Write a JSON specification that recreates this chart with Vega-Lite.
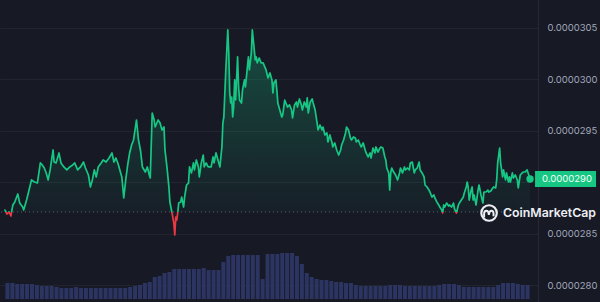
{
  "$schema": "https://vega.github.io/schema/vega-lite/v6.json",
  "width": 538,
  "height": 302,
  "autosize": {"type": "none"},
  "padding": {"left": 0, "top": 0, "right": 62, "bottom": 0},
  "background": "#171924",
  "config": {"view": {"stroke": null}},
  "datasets": {
    "price": [
      {"m":0,"p":0.000028728},{"m":6,"p":0.000028689},{"m":12,"p":0.000028709},{"m":18,"p":0.000028670},{"m":24,"p":0.000028777},{"m":30,"p":0.000028806},{"m":39,"p":0.000028884},{"m":45,"p":0.000028796},{"m":54,"p":0.000028757},{"m":57,"p":0.000028728},{"m":66,"p":0.000028825},{"m":75,"p":0.000028942},{"m":81,"p":0.000029020},{"m":90,"p":0.000029000},{"m":99,"p":0.000028990},{"m":108,"p":0.000029185},{"m":114,"p":0.000029165},{"m":120,"p":0.000029136},{"m":126,"p":0.000029088},{"m":132,"p":0.000029020},{"m":138,"p":0.000029117},{"m":147,"p":0.000029311},{"m":150,"p":0.000029194},{"m":156,"p":0.000029185},{"m":165,"p":0.000029282},{"m":171,"p":0.000029185},{"m":180,"p":0.000029146},{"m":189,"p":0.000029117},{"m":198,"p":0.000029146},{"m":207,"p":0.000029165},{"m":213,"p":0.000029185},{"m":222,"p":0.000029117},{"m":231,"p":0.000029146},{"m":240,"p":0.000029194},{"m":246,"p":0.000029136},{"m":255,"p":0.000029068},{"m":261,"p":0.000028952},{"m":267,"p":0.000029020},{"m":273,"p":0.000029117},{"m":279,"p":0.000029049},{"m":285,"p":0.000029146},{"m":294,"p":0.000029185},{"m":300,"p":0.000029214},{"m":309,"p":0.000029194},{"m":318,"p":0.000029233},{"m":327,"p":0.000029282},{"m":333,"p":0.000029194},{"m":339,"p":0.000029233},{"m":345,"p":0.000029185},{"m":351,"p":0.000029117},{"m":357,"p":0.000029049},{"m":360,"p":0.000028952},{"m":363,"p":0.000028845},{"m":369,"p":0.000029020},{"m":375,"p":0.000029165},{"m":381,"p":0.000029282},{"m":387,"p":0.000029359},{"m":393,"p":0.000029408},{"m":402,"p":0.000029602},{"m":408,"p":0.000029408},{"m":414,"p":0.000029311},{"m":420,"p":0.000029146},{"m":429,"p":0.000029097},{"m":435,"p":0.000029146},{"m":441,"p":0.000029068},{"m":444,"p":0.000029039},{"m":450,"p":0.000029670},{"m":456,"p":0.000029602},{"m":459,"p":0.000029534},{"m":468,"p":0.000029602},{"m":474,"p":0.000029573},{"m":480,"p":0.000029505},{"m":486,"p":0.000029534},{"m":489,"p":0.000029311},{"m":495,"p":0.000029146},{"m":501,"p":0.000028952},{"m":504,"p":0.000028806},{"m":510,"p":0.000028709},{"m":516,"p":0.000028602},{"m":519,"p":0.000028486},{"m":522,"p":0.000028660},{"m":525,"p":0.000028631},{"m":528,"p":0.000028699},{"m":531,"p":0.000028796},{"m":537,"p":0.000028806},{"m":540,"p":0.000028854},{"m":546,"p":0.000028757},{"m":549,"p":0.000028854},{"m":555,"p":0.000028971},{"m":561,"p":0.000028990},{"m":564,"p":0.000029146},{"m":570,"p":0.000029088},{"m":576,"p":0.000029185},{"m":579,"p":0.000029117},{"m":585,"p":0.000029214},{"m":591,"p":0.000029146},{"m":594,"p":0.000029049},{"m":600,"p":0.000029185},{"m":606,"p":0.000029262},{"m":609,"p":0.000029146},{"m":615,"p":0.000029185},{"m":621,"p":0.000029146},{"m":630,"p":0.000029146},{"m":636,"p":0.000029243},{"m":639,"p":0.000029185},{"m":645,"p":0.000029282},{"m":651,"p":0.000029214},{"m":657,"p":0.000029146},{"m":663,"p":0.000029340},{"m":666,"p":0.000029573},{"m":669,"p":0.000029631},{"m":672,"p":0.000029864},{"m":675,"p":0.000030088},{"m":681,"p":0.000030476},{"m":684,"p":0.000030253},{"m":687,"p":0.000029864},{"m":690,"p":0.000029767},{"m":693,"p":0.000029825},{"m":696,"p":0.000029631},{"m":699,"p":0.000029728},{"m":702,"p":0.000029991},{"m":705,"p":0.000029796},{"m":711,"p":0.000030214},{"m":714,"p":0.000029923},{"m":717,"p":0.000029796},{"m":723,"p":0.000029767},{"m":726,"p":0.000029893},{"m":732,"p":0.000029991},{"m":735,"p":0.000029923},{"m":741,"p":0.000030117},{"m":744,"p":0.000030214},{"m":747,"p":0.000030088},{"m":753,"p":0.000030253},{"m":756,"p":0.000030476},{"m":759,"p":0.000030379},{"m":765,"p":0.000030185},{"m":768,"p":0.000030214},{"m":771,"p":0.000030156},{"m":777,"p":0.000030204},{"m":783,"p":0.000030156},{"m":789,"p":0.000030156},{"m":798,"p":0.000030088},{"m":804,"p":0.000030010},{"m":810,"p":0.000030059},{"m":816,"p":0.000029991},{"m":819,"p":0.000029864},{"m":822,"p":0.000029961},{"m":828,"p":0.000029991},{"m":831,"p":0.000029893},{"m":834,"p":0.000029767},{"m":840,"p":0.000029699},{"m":846,"p":0.000029631},{"m":849,"p":0.000029651},{"m":855,"p":0.000029796},{"m":861,"p":0.000029748},{"m":864,"p":0.000029728},{"m":870,"p":0.000029748},{"m":876,"p":0.000029699},{"m":879,"p":0.000029622},{"m":885,"p":0.000029748},{"m":891,"p":0.000029777},{"m":894,"p":0.000029728},{"m":900,"p":0.000029806},{"m":906,"p":0.000029748},{"m":909,"p":0.000029699},{"m":915,"p":0.000029777},{"m":921,"p":0.000029728},{"m":924,"p":0.000029816},{"m":927,"p":0.000029670},{"m":933,"p":0.000029777},{"m":939,"p":0.000029806},{"m":942,"p":0.000029767},{"m":948,"p":0.000029699},{"m":954,"p":0.000029573},{"m":957,"p":0.000029505},{"m":963,"p":0.000029554},{"m":969,"p":0.000029505},{"m":972,"p":0.000029534},{"m":978,"p":0.000029457},{"m":984,"p":0.000029476},{"m":987,"p":0.000029389},{"m":993,"p":0.000029457},{"m":999,"p":0.000029389},{"m":1002,"p":0.000029340},{"m":1008,"p":0.000029379},{"m":1014,"p":0.000029311},{"m":1020,"p":0.000029262},{"m":1026,"p":0.000029311},{"m":1029,"p":0.000029359},{"m":1035,"p":0.000029408},{"m":1041,"p":0.000029476},{"m":1044,"p":0.000029534},{"m":1050,"p":0.000029505},{"m":1056,"p":0.000029427},{"m":1059,"p":0.000029408},{"m":1065,"p":0.000029437},{"m":1071,"p":0.000029427},{"m":1074,"p":0.000029389},{"m":1080,"p":0.000029408},{"m":1086,"p":0.000029359},{"m":1089,"p":0.000029340},{"m":1095,"p":0.000029379},{"m":1101,"p":0.000029311},{"m":1104,"p":0.000029282},{"m":1110,"p":0.000029243},{"m":1116,"p":0.000029282},{"m":1119,"p":0.000029233},{"m":1125,"p":0.000029330},{"m":1131,"p":0.000029282},{"m":1134,"p":0.000029340},{"m":1140,"p":0.000029291},{"m":1146,"p":0.000029330},{"m":1149,"p":0.000029340},{"m":1155,"p":0.000029330},{"m":1161,"p":0.000029243},{"m":1164,"p":0.000029214},{"m":1167,"p":0.000029136},{"m":1173,"p":0.000029088},{"m":1176,"p":0.000028922},{"m":1179,"p":0.000029088},{"m":1182,"p":0.000029136},{"m":1188,"p":0.000029097},{"m":1194,"p":0.000029068},{"m":1200,"p":0.000029020},{"m":1206,"p":0.000029088},{"m":1209,"p":0.000029136},{"m":1215,"p":0.000029088},{"m":1221,"p":0.000029146},{"m":1224,"p":0.000029117},{"m":1230,"p":0.000029136},{"m":1236,"p":0.000029117},{"m":1239,"p":0.000029185},{"m":1245,"p":0.000029194},{"m":1251,"p":0.000029088},{"m":1254,"p":0.000029117},{"m":1260,"p":0.000029136},{"m":1266,"p":0.000029194},{"m":1269,"p":0.000029117},{"m":1275,"p":0.000029088},{"m":1281,"p":0.000029049},{"m":1284,"p":0.000028971},{"m":1290,"p":0.000028952},{"m":1296,"p":0.000028922},{"m":1299,"p":0.000028903},{"m":1305,"p":0.000028854},{"m":1311,"p":0.000028874},{"m":1314,"p":0.000028845},{"m":1320,"p":0.000028806},{"m":1326,"p":0.000028777},{"m":1329,"p":0.000028757},{"m":1335,"p":0.000028728},{"m":1338,"p":0.000028699},{"m":1341,"p":0.000028777},{"m":1344,"p":0.000028757},{"m":1350,"p":0.000028796},{"m":1356,"p":0.000028767},{"m":1359,"p":0.000028777},{"m":1365,"p":0.000028757},{"m":1371,"p":0.000028796},{"m":1374,"p":0.000028738},{"m":1380,"p":0.000028699},{"m":1386,"p":0.000028777},{"m":1389,"p":0.000028796},{"m":1395,"p":0.000028825},{"m":1401,"p":0.000028854},{"m":1404,"p":0.000028893},{"m":1410,"p":0.000028952},{"m":1413,"p":0.000029000},{"m":1416,"p":0.000028942},{"m":1419,"p":0.000028825},{"m":1425,"p":0.000028922},{"m":1428,"p":0.000028952},{"m":1431,"p":0.000028825},{"m":1434,"p":0.000028874},{"m":1440,"p":0.000028777},{"m":1446,"p":0.000028922},{"m":1449,"p":0.000028971},{"m":1455,"p":0.000028874},{"m":1461,"p":0.000028796},{"m":1464,"p":0.000028903},{"m":1470,"p":0.000028903},{"m":1476,"p":0.000028922},{"m":1479,"p":0.000028903},{"m":1485,"p":0.000028913},{"m":1491,"p":0.000028942},{"m":1494,"p":0.000028952},{"m":1500,"p":0.000028942},{"m":1503,"p":0.000029020},{"m":1506,"p":0.000029185},{"m":1512,"p":0.000029330},{"m":1515,"p":0.000029185},{"m":1521,"p":0.000029049},{"m":1524,"p":0.000029117},{"m":1527,"p":0.000029068},{"m":1530,"p":0.000029020},{"m":1533,"p":0.000029088},{"m":1539,"p":0.000029000},{"m":1542,"p":0.000029049},{"m":1545,"p":0.000029000},{"m":1551,"p":0.000029088},{"m":1554,"p":0.000029039},{"m":1560,"p":0.000029068},{"m":1566,"p":0.000029020},{"m":1569,"p":0.000028942},{"m":1575,"p":0.000029068},{"m":1581,"p":0.000029088},{"m":1584,"p":0.000029097},{"m":1590,"p":0.000029097},{"m":1596,"p":0.000029117},{"m":1599,"p":0.000029088},{"m":1605,"p":0.000029029}
    ],
    "volume": [
      {"m":7.5,"v":16},{"m":22.5,"v":16},{"m":37.5,"v":15},{"m":52.5,"v":15},{"m":67.5,"v":15},{"m":82.5,"v":15},{"m":97.5,"v":14},{"m":112.5,"v":13},{"m":127.5,"v":13},{"m":142.5,"v":13},{"m":157.5,"v":12},{"m":172.5,"v":11},{"m":187.5,"v":11},{"m":202.5,"v":11},{"m":217.5,"v":12},{"m":232.5,"v":11},{"m":247.5,"v":11},{"m":262.5,"v":11},{"m":277.5,"v":11},{"m":292.5,"v":11},{"m":307.5,"v":11},{"m":322.5,"v":11},{"m":337.5,"v":11},{"m":352.5,"v":11},{"m":367.5,"v":11},{"m":382.5,"v":12},{"m":397.5,"v":13},{"m":412.5,"v":14},{"m":427.5,"v":16},{"m":442.5,"v":17},{"m":457.5,"v":22},{"m":472.5,"v":23},{"m":487.5,"v":26},{"m":502.5,"v":27},{"m":517.5,"v":30},{"m":532.5,"v":30},{"m":547.5,"v":30},{"m":562.5,"v":30},{"m":577.5,"v":30},{"m":592.5,"v":30},{"m":607.5,"v":31},{"m":622.5,"v":29},{"m":637.5,"v":29},{"m":652.5,"v":29},{"m":667.5,"v":37},{"m":682.5,"v":43},{"m":697.5,"v":44},{"m":712.5,"v":44},{"m":727.5,"v":44},{"m":742.5,"v":44},{"m":757.5,"v":44},{"m":772.5,"v":44},{"m":787.5,"v":20},{"m":802.5,"v":45},{"m":817.5,"v":45},{"m":832.5,"v":45},{"m":847.5,"v":46},{"m":862.5,"v":46},{"m":877.5,"v":46},{"m":892.5,"v":43},{"m":907.5,"v":35},{"m":922.5,"v":26},{"m":937.5,"v":22},{"m":952.5,"v":20},{"m":967.5,"v":19},{"m":982.5,"v":19},{"m":997.5,"v":18},{"m":1012.5,"v":17},{"m":1027.5,"v":17},{"m":1042.5,"v":16},{"m":1057.5,"v":16},{"m":1072.5,"v":14},{"m":1087.5,"v":13},{"m":1102.5,"v":13},{"m":1117.5,"v":13},{"m":1132.5,"v":13},{"m":1147.5,"v":13},{"m":1162.5,"v":13},{"m":1177.5,"v":14},{"m":1192.5,"v":14},{"m":1207.5,"v":14},{"m":1222.5,"v":13},{"m":1237.5,"v":13},{"m":1252.5,"v":13},{"m":1267.5,"v":13},{"m":1282.5,"v":13},{"m":1297.5,"v":13},{"m":1312.5,"v":13},{"m":1327.5,"v":14},{"m":1342.5,"v":15},{"m":1357.5,"v":15},{"m":1372.5,"v":15},{"m":1387.5,"v":14},{"m":1402.5,"v":12},{"m":1417.5,"v":12},{"m":1432.5,"v":12},{"m":1447.5,"v":12},{"m":1462.5,"v":12},{"m":1477.5,"v":12},{"m":1492.5,"v":12},{"m":1507.5,"v":14},{"m":1522.5,"v":16},{"m":1537.5,"v":16},{"m":1552.5,"v":16},{"m":1567.5,"v":15},{"m":1582.5,"v":14},{"m":1597.5,"v":14}
    ],
    "last": [{"m":1605,"p":0.000029029,"brand":"CoinMarketCap"}],
    "base": [{"p":0.000028709}]
  },
  "layer": [
    {
      "data": {"name": "volume"},
      "mark": {"type": "bar", "width": 4, "color": "#2c3562"},
      "encoding": {
        "x": {"field": "m", "type": "quantitative", "scale": {"domain": [0, 1614], "nice": false, "zero": false}, "axis": null},
        "y": {"field": "v", "type": "quantitative", "scale": {"domain": [-3, 299], "nice": false, "zero": false}, "axis": null}
      }
    },
    {
      "layer": [
        {
          "data": {"name": "price"},
          "mark": {"type": "area", "fill": {"gradient": "linear", "x1": 0, "y1": 0, "x2": 0, "y2": 1, "stops": [{"offset": 0, "color": "rgba(22,199,132,0.30)"}, {"offset": 1, "color": "rgba(22,199,132,0)"}]}},
          "encoding": {
            "x": {"field": "m", "type": "quantitative", "scale": {"domain": [0, 1614], "nice": false, "zero": false}, "axis": null},
            "y": {"field": "p", "type": "quantitative", "scale": {"domain": [0.000027835, 0.000030767], "nice": false, "zero": false},
              "axis": {"orient": "right", "title": null, "values": [0.000028, 0.0000285, 0.000029, 0.0000295, 0.00003, 0.0000305], "format": ".7f", "labelExpr": "abs(datum.value - 0.000029) < 0.000000001 ? '' : datum.label", "grid": true, "gridColor": "#22252f", "gridWidth": 1, "domain": true, "domainColor": "#262a36", "ticks": false, "labelColor": "#a1a7bb", "labelFont": "Inter", "labelFontSize": 9.5, "labelPadding": 9}},
            "y2": {"datum": 0.000028709}
          }
        },
        {
          "data": {"name": "base"},
          "mark": {"type": "rule", "color": "#5b6072", "strokeWidth": 1, "strokeDash": [1, 3]},
          "encoding": {"y": {"field": "p", "type": "quantitative"}}
        },
        {
          "data": {"name": "price"},
          "mark": {"type": "line", "strokeWidth": 1.7, "strokeJoin": "round", "strokeCap": "round",
            "stroke": {"gradient": "linear", "x1": 0, "y1": 0, "x2": 0, "y2": 1, "stops": [{"offset": 0, "color": "#16c784"}, {"offset": 0.888, "color": "#16c784"}, {"offset": 0.888, "color": "#ea3943"}, {"offset": 1, "color": "#ea3943"}]}},
          "encoding": {
            "x": {"field": "m", "type": "quantitative"},
            "y": {"field": "p", "type": "quantitative"}
          }
        },
        {
          "data": {"name": "last"},
          "mark": {"type": "point", "shape": "M-1,-0.262L1,-0.262L1,0.262L-1,0.262Z", "size": 3721, "filled": true, "opacity": 1, "color": "#16c784", "strokeWidth": 0, "xOffset": 35.5},
          "encoding": {"x": {"field": "m", "type": "quantitative"}, "y": {"field": "p", "type": "quantitative"}}
        },
        {
          "data": {"name": "last"},
          "mark": {"type": "text", "align": "left", "baseline": "middle", "dx": 12, "color": "#f4fff9", "font": "Inter", "fontSize": 9.5},
          "encoding": {"x": {"field": "m", "type": "quantitative"}, "y": {"field": "p", "type": "quantitative"}, "text": {"field": "p", "type": "quantitative", "format": ".7f"}}
        },
        {
          "data": {"name": "last"},
          "mark": {"type": "point", "shape": "circle", "size": 55, "filled": true, "opacity": 1, "color": "#16c784"},
          "encoding": {"x": {"field": "m", "type": "quantitative"}, "y": {"field": "p", "type": "quantitative"}}
        },
        {
          "data": {"name": "last"},
          "mark": {"type": "point", "shape": "circle", "size": 240, "filled": false, "opacity": 1, "color": "#eceef3", "strokeWidth": 2.2, "xOffset": -41, "yOffset": 34},
          "encoding": {"x": {"field": "m", "type": "quantitative"}, "y": {"field": "p", "type": "quantitative"}}
        },
        {
          "data": {"name": "last"},
          "mark": {"type": "point", "shape": "M-0.55,0.4L-0.55,0.0Q-0.55,-0.35 -0.3,-0.35Q-0.05,-0.35 -0.02,0.1Q0.02,-0.35 0.27,-0.35Q0.5,-0.35 0.5,0.0L0.5,0.25", "size": 324, "filled": false, "opacity": 1, "color": "#eceef3", "strokeWidth": 2, "xOffset": -41, "yOffset": 35},
          "encoding": {"x": {"field": "m", "type": "quantitative"}, "y": {"field": "p", "type": "quantitative"}}
        },
        {
          "data": {"name": "last"},
          "mark": {"type": "text", "align": "left", "baseline": "middle", "dx": -27, "dy": 34, "color": "#eceef3", "font": "Inter", "fontWeight": 600, "fontSize": 12.3},
          "encoding": {"x": {"field": "m", "type": "quantitative"}, "y": {"field": "p", "type": "quantitative"}, "text": {"field": "brand"}}
        }
      ]
    }
  ],
  "resolve": {"scale": {"y": "independent"}}
}
